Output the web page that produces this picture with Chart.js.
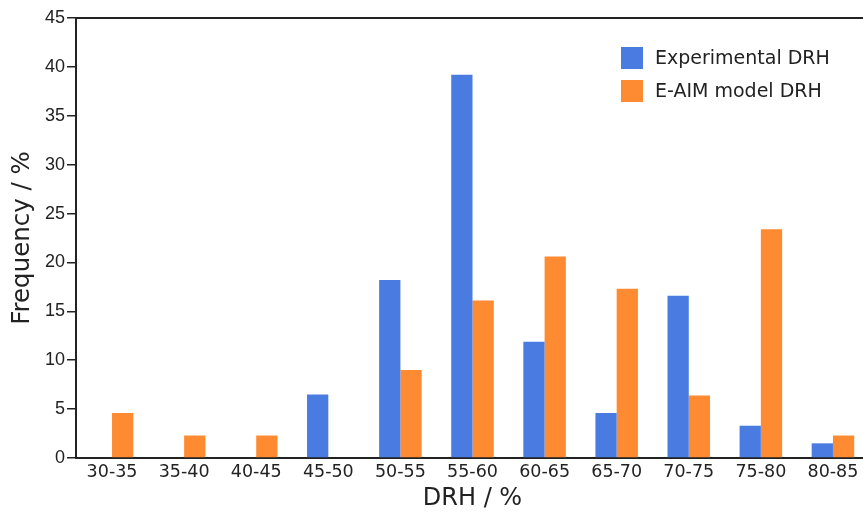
<!DOCTYPE html>
<html>
<head>
<meta charset="utf-8">
<script src="https://cdn.jsdelivr.net/npm/chart.js@4/dist/chart.umd.min.js"></script>
<style>
  html, body { margin: 0; padding: 0; background: #fff; overflow: hidden; }
  canvas { display: block; }
</style>
</head>
<body>
<canvas id="myChart" width="872" height="517"></canvas>
<script>
var Rangos = ['30-35', '35-40', '40-45', '45-50', '50-55', '55-60', '60-65', '65-70', '70-75', '75-80', '80-85']
var Experimental = [0, 0, 0, 6.5, 18.2, 39.2, 11.9, 4.6, 16.6, 3.3, 1.5]
var Modelo = [4.6, 2.3, 2.3, 0, 9.0, 16.1, 20.6, 17.3, 6.4, 23.4, 2.3]
var Ejes = { yMin: 0, yMax: 45, yPaso: 5 }

var colorEje = '#222222'

// leyenda dentro del area, arriba a la derecha
var leyenda = {
    id: 'leyenda',
    afterDraw: function (chart) {
        var ctx = chart.ctx
        var ds = chart.data.datasets
        ctx.save()
        ctx.font = '19px "DejaVu Sans"'
        ctx.textBaseline = 'middle'
        for (var i = 0; i < ds.length; i++) {
            var y = 47 + i * 33
            ctx.fillStyle = ds[i].backgroundColor
            ctx.fillRect(621, y, 22, 22)
            ctx.fillStyle = colorEje
            ctx.fillText(ds[i].label, 655, y + 12)
        }
        ctx.restore()
    }
}

// linea superior del marco
var marco = {
    id: 'marco',
    afterDraw: function (chart) {
        var a = chart.chartArea
        var ctx = chart.ctx
        ctx.save()
        ctx.strokeStyle = colorEje
        ctx.lineWidth = 2
        ctx.beginPath()
        ctx.moveTo(a.left - 1, a.top)
        ctx.lineTo(a.right + 10, a.top)
        ctx.stroke()
        ctx.restore()
    }
}

var ctx = document.getElementById('myChart')
var chartData = {
    type: 'bar',
    data: {
        labels: Rangos,
        datasets: [{
            label: 'Experimental DRH',
            data: Experimental,
            backgroundColor: '#4a7be1',
            borderWidth: 0,
            categoryPercentage: 0.59,
            barPercentage: 1
        },
        {
            label: 'E-AIM model DRH',
            data: Modelo,
            backgroundColor: '#fe8a31',
            borderWidth: 0,
            categoryPercentage: 0.59,
            barPercentage: 1
        }]
    },
    options: {
        responsive: false,
        animation: false,
        layout: { padding: { top: 18, right: 3, left: 0, bottom: 0 } },
        plugins: {
            legend: { display: false },
            tooltip: { enabled: false }
        },
        scales: {
            x: {
                grid: { display: false, drawTicks: false },
                border: { display: true, color: colorEje, width: 2 },
                ticks: {
                    color: colorEje,
                    padding: 4,
                    font: { family: 'DejaVu Sans', size: 17.5 },
                    maxRotation: 0
                },
                title: {
                    display: true,
                    text: 'DRH / %',
                    color: colorEje,
                    font: { family: 'DejaVu Sans', size: 24 },
                    padding: { top: 0, bottom: 4 }
                },
                afterFit: function (s) { s.height = 59 }
            },
            y: {
                min: Ejes.yMin,
                max: Ejes.yMax,
                grid: {
                    drawOnChartArea: false,
                    drawTicks: true,
                    tickLength: 9,
                    color: colorEje,
                    lineWidth: 1.5
                },
                border: { display: true, color: colorEje, width: 2 },
                ticks: {
                    stepSize: Ejes.yPaso,
                    color: colorEje,
                    padding: 2,
                    font: { family: 'Liberation Sans', size: 18 }
                },
                title: {
                    display: true,
                    text: 'Frequency / %',
                    color: colorEje,
                    font: { family: 'DejaVu Sans', size: 24.5 },
                    padding: { top: 8, bottom: 0 }
                },
                afterFit: function (s) { s.width = 76 }
            }
        }
    },
    plugins: [leyenda, marco]
}
var myChart = new Chart(ctx, chartData)
</script>
</body>
</html>
